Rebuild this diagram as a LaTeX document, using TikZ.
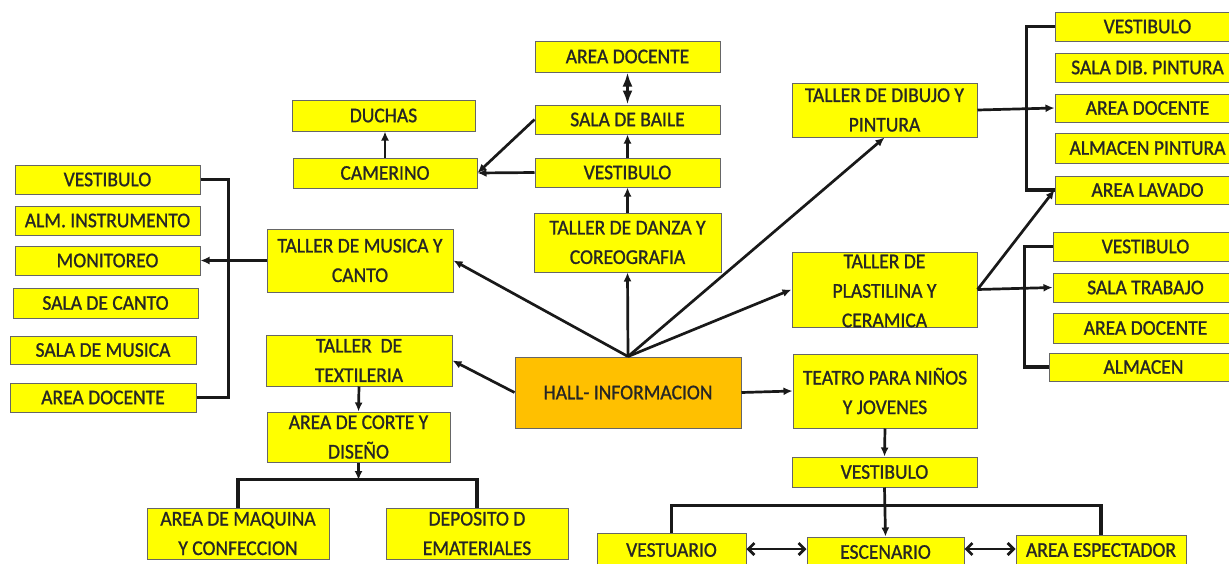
\documentclass[tikz,border=0pt]{standalone}
\usepackage{fontspec}
\setmainfont{Carlito}[FakeStretch=0.93,FakeBold=1]
\usetikzlibrary{arrows.meta}
\definecolor{ybox}{HTML}{FFFF00}
\definecolor{obox}{HTML}{FFC000}
\begin{document}
\begin{tikzpicture}[x=1pt,y=-1pt,
  bx/.style={draw=black!60, line width=1pt, fill=ybox, inner sep=0pt, align=center, font=\fontsize{21}{29.5}\selectfont, text=black!85},
  txt/.style={inner sep=0pt, align=center, font=\fontsize{21}{29.5}\selectfont, text=black!85},
  wh/.style 2 args={minimum width=#1pt, minimum height=#2pt},
  cn/.style={line width=2.7pt, draw=black!90},
  ar/.style={cn, -{Latex[length=9pt,width=8pt]}},
  br/.style={line width=3.3pt, draw=black!90},
  dbl/.style={cn, {Straight Barb[length=6pt,width=12pt]}-{Straight Barb[length=6pt,width=12pt]}},
]
\useasboundingbox (0,0) rectangle (1229,563);
\clip (0,0) rectangle (1229,563);
% left list
\node[bx, wh={185}{29}] (lv)  at (107.5,179.5) {VESTIBULO};
\node[bx, wh={185}{29}] (lai) at (107.5,220.5) {ALM. INSTRUMENTO};
\node[bx, wh={185}{29}] (lmo) at (107.5,260.5) {MONITOREO};
\node[bx, wh={185}{30}] (lsc) at (105.5,303) {SALA DE CANTO};
\node[bx, wh={186}{28}] (lsm) at (103,350) {SALA DE MUSICA};
\node[bx, wh={186}{29}] (lad) at (103,397.5) {AREA DOCENTE};
% middle left
\node[bx, wh={186}{63}] (mus) at (360,260.5) {TALLER DE MUSICA Y\\CANTO};
\node[bx, wh={186}{51}] (tex) at (359,360.5) {TALLER\ \ DE\\TEXTILERIA};
\node[bx, wh={183}{50}] (cor) at (358.5,437) {AREA DE CORTE Y\\DISEÑO};
\node[bx, wh={182}{51}] (maq) at (238,533.5) {AREA DE MAQUINA\\Y CONFECCION};
\node[bx, wh={182}{51}] (dep) at (477,533.5) {DEPOSITO D\\EMATERIALES};
% hall
\node[bx, fill=obox, wh={226}{71}] (hall) at (628,392.5) {HALL- INFORMACION};
% danza column
\node[bx, wh={187}{59}] (dan) at (627.5,242.5) {TALLER DE DANZA Y\\COREOGRAFIA};
\node[bx, wh={185}{29}] (dve) at (627.5,172.5) {VESTIBULO};
\node[bx, wh={185}{29}] (sb)  at (627.5,119.5) {SALA DE BAILE};
\node[bx, wh={185}{31}] (dad) at (627.5,56.5) {AREA DOCENTE};
\node[bx, wh={183}{31}] (duc) at (383.5,115.5) {DUCHAS};
\node[bx, wh={184}{30}] (cam) at (385,173) {CAMERINO};
% right middle
\node[bx, wh={185}{54}] (dib) at (884.5,110) {TALLER DE DIBUJO Y\\PINTURA};
\node[bx, wh={185}{75}] (pla) at (884.5,289.5) {};
\node[txt] (plat) at (884.5,291) {TALLER DE\\PLASTILINA Y\\CERAMICA};
\node[bx, wh={184}{74}] (tea) at (885,391) {TEATRO PARA NIÑOS\\Y JOVENES};
\node[bx, wh={185}{30}] (tve) at (884.5,472) {VESTIBULO};
\node[bx, wh={149}{34}] (vsu) at (671.5,550) {VESTUARIO};
\node[bx, wh={157}{30}] (esc) at (885.5,552) {ESCENARIO};
\node[bx, wh={170}{30}] (esp) at (1101,550) {AREA ESPECTADOR};
% right list 1
\node[bx, wh={185}{29}] (r1) at (1147.5,26.5) {VESTIBULO};
\node[bx, wh={185}{29}] (r2) at (1147.5,67.5) {SALA DIB. PINTURA};
\node[bx, wh={185}{28}] (r3) at (1147.5,108) {AREA DOCENTE};
\node[bx, wh={185}{30}] (r4) at (1147.5,148) {ALMACEN PINTURA};
\node[bx, wh={185}{28}] (r5) at (1147.5,190) {AREA LAVADO};
% right list 2
\node[bx, wh={185}{29}] (p1) at (1145.5,246.5) {VESTIBULO};
\node[bx, wh={185}{29}] (p2) at (1145.5,287.5) {SALA TRABAJO};
\node[bx, wh={185}{30}] (p3) at (1145.5,328) {AREA DOCENTE};
\node[bx, wh={189}{28}] (p4) at (1143.5,367) {ALMACEN};
% connectors
\draw[br] (lv.east) -- ++(28,0) |- (lad.east);
\draw[ar] (mus.west) -- (lmo.east);
\draw[ar] (hall.north) -- (mus.east);
\draw[ar] (hall.north) -- (dan.south);
\draw[ar] (hall.north) -- (dib.south);
\draw[ar] (hall.north) -- (pla.west);
\draw[ar] (hall.west) -- (tex.east);
\draw[ar] (hall.east) -- (tea.west);
\draw[ar] (tex.south) -- (cor.north);
\coordinate (jt) at (358.5,480);
\draw[ar] (cor.south) -- (jt);
\draw[br] (maq.north) -- ++(0,-28) -| (dep.north);
\draw[ar] (dan.north) -- (dve.south);
\draw[ar] (dve.north) -- (sb.south);
\draw[cn, {Latex[length=14pt,width=10pt]}-{Latex[length=14pt,width=10pt]}] (sb.north) -- (dad.south);
\draw[ar] (dve.west) -- (cam.east);
\draw[ar] (sb.west) -- (cam.east);
\draw[ar] (cam.north) -- (cam.north |- duc.south);
\draw[br] (r1.west) -- ++(-28,0) |- (r5.west);
\draw[ar] (dib.east) -- (r3.west);
\draw[ar] (pla.east) -- (r5.west);
\draw[br] (p1.west) -- ++(-28,0) |- (p4.west);
\draw[ar] (pla.east) -- (p2.west);
\draw[ar] (tea.south) -- (tve.north);
\draw[ar] (tve.south) -- (esc.north);
\draw[br] (vsu.north) -- ++(0,-27) -| (esp.north);
\coordinate (da) at (885,549);
\draw[dbl] (vsu.east |- da) -- (esc.west |- da);
\draw[dbl] (esc.east |- da) -- (esp.west |- da);
\end{tikzpicture}
\end{document}
